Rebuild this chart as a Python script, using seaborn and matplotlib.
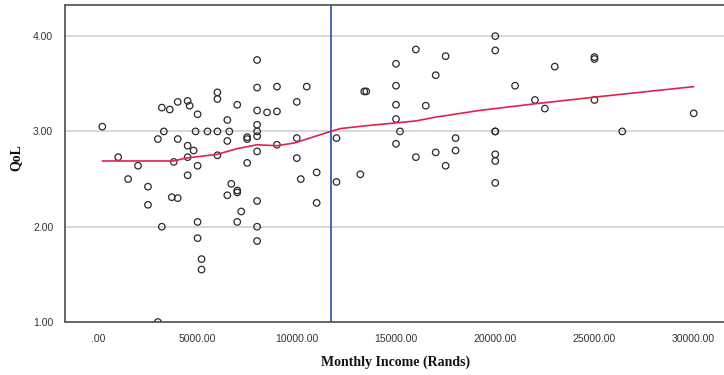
import matplotlib
matplotlib.use("Agg")
import matplotlib.pyplot as plt
import seaborn as sns
import pandas as pd

# ---- data ----
income = [200, 1000, 1500, 2000, 2500, 2500, 3000, 3000, 3200, 3200,
          3300, 3600, 3700, 3800, 4000, 4000, 4000, 4500, 4500, 4500,
          4500, 4600, 4800, 4900, 5000, 5000, 5000, 5000, 5200, 5200,
          5500, 6000, 6000, 6000, 6000, 6500, 6500, 6500, 6600, 6700,
          7000, 7000, 7000, 7000, 7200, 7500, 7500, 7500, 8000, 8000,
          8000, 8000, 8000, 8000, 8000, 8000, 8000, 8000, 8500, 9000,
          9000, 9000, 10000, 10000, 10000, 10200, 10500, 11000, 11000, 12000,
          12000, 13200, 13400, 13500, 15000, 15000, 15000, 15000, 15000, 15200,
          16000, 16000, 16500, 17000, 17000, 17500, 17500, 18000, 18000, 20000,
          20000, 20000, 20000, 20000, 20000, 20000, 21000, 22000, 22500, 23000,
          25000, 25000, 25000, 26400, 30000]
qol = [3.05, 2.73, 2.50, 2.64, 2.42, 2.23, 2.92, 1.00, 3.25, 2.00,
       3.00, 3.23, 2.31, 2.68, 3.31, 2.92, 2.30, 3.32, 2.85, 2.73,
       2.54, 3.27, 2.80, 3.00, 3.18, 2.64, 2.05, 1.88, 1.66, 1.55,
       3.00, 3.41, 3.34, 3.00, 2.75, 3.12, 2.90, 2.33, 3.00, 2.45,
       3.28, 2.38, 2.36, 2.05, 2.16, 2.94, 2.92, 2.67, 3.75, 3.46,
       3.22, 3.07, 3.00, 2.95, 2.79, 2.27, 2.00, 1.85, 3.20, 3.47,
       3.21, 2.86, 3.31, 2.93, 2.72, 2.50, 3.47, 2.57, 2.25, 2.93,
       2.47, 2.55, 3.42, 3.42, 3.71, 3.48, 3.28, 3.13, 2.87, 3.00,
       3.86, 2.73, 3.27, 3.59, 2.78, 3.79, 2.64, 2.93, 2.80, 4.00,
       3.85, 3.00, 3.00, 2.76, 2.69, 2.46, 3.48, 3.33, 3.24, 3.68,
       3.78, 3.76, 3.33, 3.00, 3.19]

# loess fit line
fit_income = [200, 2000, 3800, 4400, 5600, 6000, 7000, 8000, 9000, 9900,
              11700, 12200, 13500, 15000, 16000, 17000, 19200, 22000, 25000, 30000]
fit_qol = [2.69, 2.69, 2.69, 2.72, 2.75, 2.76, 2.82, 2.86, 2.85, 2.88,
           3.00, 3.03, 3.06, 3.09, 3.11, 3.15, 3.22, 3.29, 3.36, 3.47]

mean_income = 11700
y_ticks = [1.0, 2.0, 3.0, 4.0]
x_ticks = [0, 5000, 10000, 15000, 20000, 25000, 30000]
x_tick_labels = [".00", "5000.00", "10000.00", "15000.00", "20000.00", "25000.00", "30000.00"]
y_tick_labels = ["1.00", "2.00", "3.00", "4.00"]

pts = pd.DataFrame({"income": income, "qol": qol})
fit = pd.DataFrame({"income": fit_income, "qol": fit_qol})

sns.set_style("white")
fig = plt.figure(figsize=(7.24, 3.75), dpi=100)
ax = fig.add_axes([65 / 724, 1 - 322 / 375, 1 - 65 / 724 + 0.002, (322 - 4.7) / 375])

for yt in y_ticks[1:]:
    ax.axhline(yt, color="#d4d4d4", lw=1.3, zorder=0)

sns.scatterplot(data=pts, x="income", y="qol", ax=ax, marker="o", s=22,
                facecolor="none", edgecolor="#2b2b2b", linewidth=0.9, zorder=3)
sns.lineplot(data=fit, x="income", y="qol", ax=ax, color="#e3214f", lw=1.2,
             estimator=None, sort=True, zorder=4)
ax.axvline(mean_income, color="#3c5ba6", lw=1.3, zorder=5)

ax.set_xlim(-1680, 31600)
ax.set_ylim(1.0, 4.33)
ax.set_xticks(x_ticks)
ax.set_xticklabels(x_tick_labels, fontsize=7.5, color="#333333", family="Liberation Sans")
ax.set_yticks(y_ticks)
ax.set_yticklabels(y_tick_labels, fontsize=7.5, color="#333333", family="Liberation Sans")
ax.tick_params(axis="x", direction="out", length=4, width=0.8, color="#aaaaaa", pad=5)
ax.tick_params(axis="y", direction="out", length=4.5, width=0.8, color="#aaaaaa", pad=4)

ax.set_xlabel("Monthly Income (Rands)", fontsize=10, fontweight="bold",
              family="Liberation Serif", color="#111111", labelpad=8)
ax.set_ylabel("QoL", fontsize=10, fontweight="bold",
              family="Liberation Serif", color="#111111")
ax.yaxis.set_label_coords(-0.064, 0.517)

for side in ["left", "bottom", "top"]:
    ax.spines[side].set_color("#5a5a5a")
    ax.spines[side].set_linewidth(1.3)
ax.spines["right"].set_visible(False)

fig.savefig("out.png", dpi=100)
